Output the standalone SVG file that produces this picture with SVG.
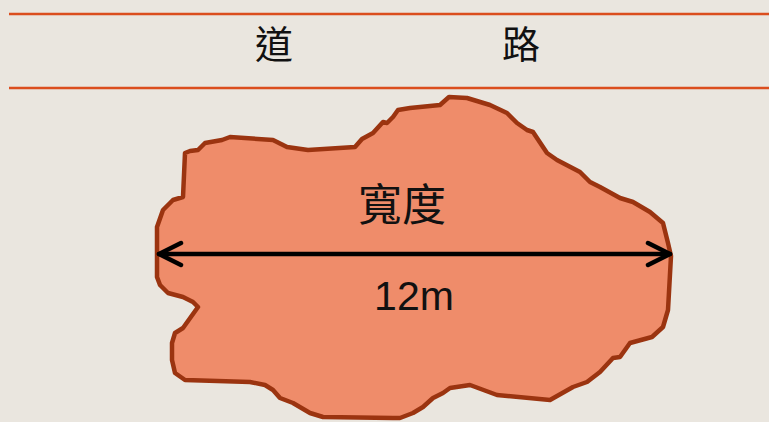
<svg xmlns="http://www.w3.org/2000/svg" width="769" height="422" viewBox="0 0 769 422">
<style>
.road{stroke:#DB4E1E;stroke-width:2.5;fill:none}
.cjk{font-family:"Noto Sans CJK TC","Noto Sans CJK SC",sans-serif;fill:#111}
.blob{fill:#EF8C6A;stroke:#9B3410;stroke-width:4.5;stroke-linejoin:round}
.dim{stroke:#000;stroke-width:4.5;fill:none;stroke-linecap:round;stroke-linejoin:round}
</style>
<rect width="769" height="422" fill="#EAE6DF"/>
<g id="road">
<line class="road" x1="9" y1="14" x2="769" y2="14"/>
<line class="road" x1="9" y1="88" x2="769" y2="88"/>
<text class="cjk" x="274" y="58" font-size="38" text-anchor="middle">道</text>
<text class="cjk" x="521" y="58" font-size="38" text-anchor="middle">路</text>
</g>
<g id="land">
<path class="blob" d="M185,153 L190,151 L198,150 L205,143 L222,140 L230,137 L273,140 L287,147 L308,150 L355,147 L362,139 L373,133 L383,122 L387,123 L393,117 L398,110 L410,108 L440,105 L449,97 L467,98 L490,105 L507,113 L517,123 L527,130 L533,132 L547,153 L557,160 L580,172 L590,182 L600,187 L620,198 L633,202 L650,212 L663,223 L668,243 L671,256 L668,310 L663,327 L652,337 L630,343 L625,350 L620,357 L613,358 L600,372 L587,382 L573,387 L550,400 L497,395 L470,385 L450,388 L443,393 L433,398 L423,407 L413,413 L400,418 L393,418 L323,417 L310,413 L293,403 L280,398 L273,390 L265,385 L250,382 L185,380 L175,373 L172,360 L172,343 L175,333 L183,328 L198,307 L193,302 L183,297 L168,293 L160,285 L157,277 L157,253 L157,227 L163,210 L173,200 L183,197 Z"/>
<text class="cjk" x="402" y="221" font-size="44" text-anchor="middle">寬度</text>
<text x="414" y="310" font-family="Liberation Sans, Arial, sans-serif" font-size="41" text-anchor="middle" fill="#111">12m</text>
</g>
<g id="connectors">
<line class="dim" x1="159" y1="254" x2="670" y2="254"/>
<polyline class="dim" points="181,243 159,254 181,265"/>
<polyline class="dim" points="648,243 670,254 648,265"/>
</g>
</svg>
